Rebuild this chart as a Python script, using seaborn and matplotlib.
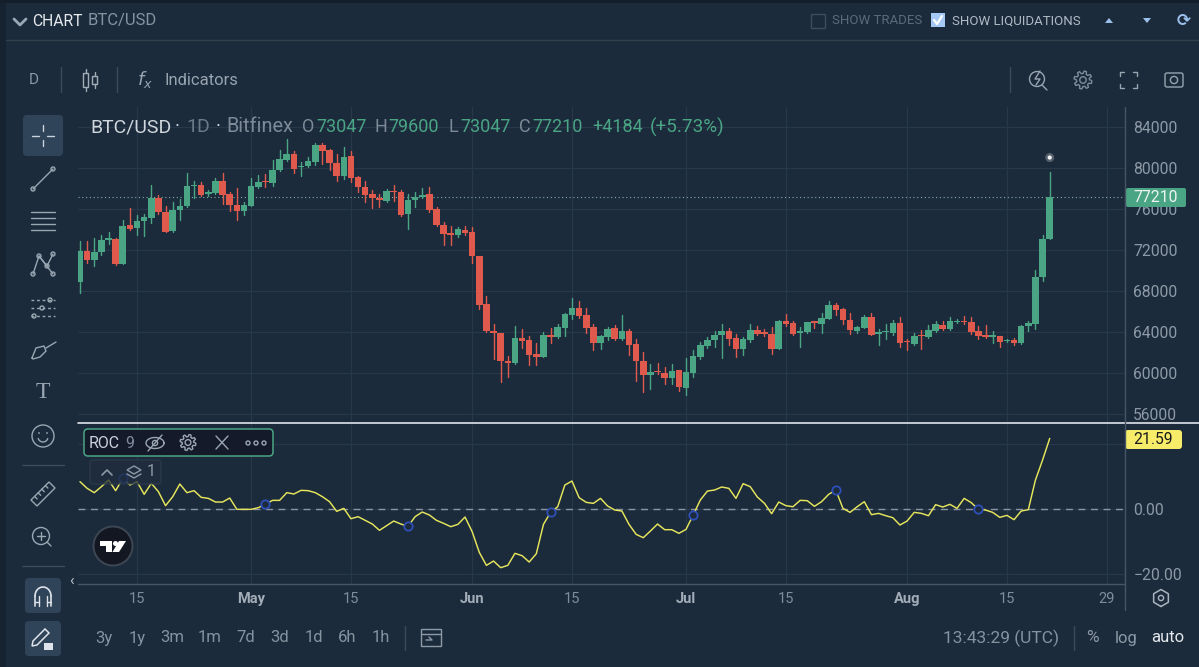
import matplotlib
matplotlib.use("Agg")
import numpy as np
import pandas as pd
import matplotlib.pyplot as plt
import seaborn as sns
from matplotlib.patches import FancyBboxPatch, Circle, Rectangle, Polygon

# daily candles, 7 Apr to 21 Aug
opens = [68860, 71870, 71060, 71810, 73010, 73070, 70670, 74430, 74110, 74820, 75150, 77090, 75730, 73820, 75860, 76280, 78260, 78360, 77450, 77550,
         78750, 77480, 76410, 75800, 76310, 78130, 78750, 78550, 79780, 80790, 81410, 80110, 80210, 80590, 82250, 81760, 80500, 79230, 81150, 79140,
         78160, 77480, 77090, 76770, 77740, 77680, 75540, 76830, 77130, 77480, 76020, 74470, 73620, 73460, 73980, 73750, 71450, 66750, 64090, 63860,
         61170, 60940, 63440, 63210, 61820, 61560, 63700, 63500, 64380, 65680, 66360, 65640, 64440, 62890, 63470, 64350, 63310, 64090, 62790, 61140,
         59810, 60230, 60030, 59550, 60260, 58570, 60030, 61530, 62630, 63180, 63700, 64050, 63370, 62300, 63210, 64190, 63960, 63760, 62340, 65120,
         64870, 63890, 63990, 65030, 64770, 65290, 66680, 66200, 65190, 64120, 64380, 65510, 63800, 64020, 63930, 64840, 63150, 62820, 63700, 63470,
         64060, 64700, 64310, 64960, 65090, 64960, 64060, 63670, 63540, 63570, 63110, 63180, 62890, 64570, 64770, 69340, 73047]
highs = [72840, 72840, 73170, 73490, 73750, 73170, 74890, 76050, 75410, 75540, 78390, 77380, 76250, 76640, 76960, 79490, 78780, 78680, 77870, 79010,
         79560, 77610, 78000, 76670, 79010, 79270, 79430, 80790, 81730, 82800, 81700, 80630, 81110, 82440, 82410, 81830, 81370, 82090, 81700, 79230,
         78710, 77870, 77480, 77940, 78330, 77870, 77480, 77610, 78000, 78160, 76150, 74690, 74370, 74240, 74370, 74210, 71450, 67490, 64740, 63930,
         61660, 64570, 64310, 63600, 62950, 63990, 64410, 64740, 65810, 67330, 67040, 66320, 64740, 63670, 64480, 64640, 65610, 64310, 63280, 62040,
         60840, 60940, 60580, 60840, 60330, 61430, 62210, 63020, 63470, 64050, 64770, 64350, 63760, 63540, 64770, 64570, 64310, 64480, 65160, 65710,
         65060, 64510, 64960, 65060, 65870, 67010, 66840, 66390, 65870, 64540, 65610, 65810, 64250, 64740, 65190, 65480, 63280, 63860, 64190, 64640,
         65090, 65060, 65480, 65220, 65550, 65480, 64570, 64640, 64090, 63630, 63310, 63440, 64670, 65120, 70090, 73490, 79600]
lows = [67820, 70740, 70480, 71480, 72590, 70510, 70610, 73910, 73490, 73330, 74630, 75470, 73750, 73780, 74890, 76180, 77090, 77220, 77220, 77480,
        76510, 75760, 74950, 75370, 76280, 78000, 78100, 78200, 79720, 80730, 79490, 79230, 80140, 80300, 80400, 79820, 78750, 78910, 78650, 77640,
        76670, 76090, 76220, 76640, 76740, 75340, 74040, 76180, 77060, 75730, 74300, 72520, 72520, 73260, 73490, 70730, 66200, 64020, 61330, 59160,
        59610, 60840, 62470, 60810, 60810, 61530, 62890, 63440, 63600, 65290, 65380, 63860, 62240, 62300, 63210, 63250, 63250, 61720, 59250, 58180,
        58410, 59870, 58900, 58900, 58250, 57830, 59610, 61330, 62430, 62530, 61430, 62690, 61590, 61780, 63020, 63730, 63600, 61820, 62300, 64570,
        63700, 62560, 63930, 64350, 63860, 65220, 65610, 64740, 63760, 63860, 64350, 63670, 62730, 63280, 63670, 62530, 62240, 62760, 62300, 63370,
        63990, 64190, 64190, 64870, 64740, 63830, 63340, 63370, 62890, 62560, 62990, 62690, 62820, 64060, 64250, 68950, 73047]
closes = [71870, 71060, 71770, 73010, 73170, 70640, 74370, 74080, 74820, 75210, 77090, 75670, 73780, 75890, 76310, 78200, 78360, 77380, 77610, 78780,
          77380, 76350, 75830, 76350, 78260, 78680, 78650, 79820, 80890, 81410, 79950, 80210, 80690, 82220, 81700, 80470, 79230, 81110, 79010, 78100,
          77380, 77030, 76870, 77710, 77640, 75440, 76830, 77190, 77380, 75930, 74430, 73590, 73490, 74040, 73650, 71380, 66650, 64050, 63860, 61140,
          60940, 63440, 63110, 61750, 61530, 63670, 63540, 64440, 65710, 66320, 65580, 64350, 62890, 63570, 64310, 63280, 64050, 62690, 61140, 59810,
          60130, 60070, 59550, 60230, 58610, 60070, 61660, 62690, 63210, 63670, 64050, 63340, 62300, 63280, 64220, 63830, 63800, 62300, 65120, 64800,
          63800, 64060, 64930, 64870, 65320, 66620, 66130, 65160, 64190, 64440, 65480, 63700, 63990, 64120, 64840, 62890, 62990, 63630, 63570, 64150,
          64740, 64280, 65030, 65120, 64930, 63960, 63570, 63470, 63670, 63050, 63210, 62920, 64610, 64840, 69370, 73070, 77210]

roc = [8.36, 6.32, 5.0, 6.83, 8.87, 5.61, 9.38, 7.34, 8.36, 4.49, 7.85, 5.3, 1.02, 3.77, 7.65, 5.0, 5.61, 3.57, 3.26, 2.14,
       2.14, 3.36, -0.1, -0.1, -0.1, 0.41, 1.43, 2.65, 2.65, 5.0, 4.59, 5.71, 5.61, 5.0, 3.77, 2.24, -0.71, 0.2, -2.96, -2.34,
       -3.47, -4.59, -6.52, -5.1, -3.67, -4.59, -5.3, -2.34, -0.92, -1.83, -3.47, -4.38, -5.4, -4.69, -2.45, -6.93, -13.25, -17.23, -15.9, -17.94,
       -17.23, -13.56, -14.27, -16.21, -13.66, -4.69, -1.02, 0.71, 7.34, 8.56, 3.47, 2.04, 1.73, 3.26, 0.92, -0.31, -0.61, -4.69, -7.75, -8.77,
       -6.73, -4.59, -6.32, -6.32, -7.44, -6.22, -1.83, 2.75, 5.5, 5.81, 6.73, 6.32, 3.26, 7.75, 6.83, 3.67, 1.73, -1.43, 2.14, 1.02,
       0.71, 2.65, 2.55, 0.82, 2.24, 4.49, 5.81, 0.2, -1.02, 0.71, 2.24, -1.73, -1.33, -2.04, -2.65, -4.89, -3.67, -1.02, -1.33, -2.04,
       1.33, 0.61, 1.43, 0.2, 3.26, 1.94, -0.1, -0.31, -1.02, -2.55, -1.94, -3.26, -0.61, -0.2, 8.87, 14.98, 21.59]

price_ticks = [56000, 60000, 64000, 68000, 72000, 76000, 80000, 84000]
roc_ticks = [-20, 0]
date_ticks = ["2024-04-15", "2024-05-01", "2024-05-15", "2024-06-01", "2024-06-15", "2024-07-01", "2024-07-15", "2024-08-01", "2024-08-15", "2024-08-29"]
date_labels = ["15", "May", "15", "Jun", "15", "Jul", "15", "Aug", "15", "29"]
marker_every = 20
last_price = 77210
liq_price = 81020

BG = "#1c2b3b"
GRID = "#26384a"
UP = "#4aa585"
DOWN = "#df5a4d"
YELLOW = "#e6e65c"
GREY = "#7f8c9b"
LIGHT = "#c9d2dc"

sns.set_theme(style="dark", rc={"axes.facecolor": BG, "figure.facecolor": BG, "axes.grid": False})
plt.rcParams["font.family"] = ["Roboto", "DejaVu Sans"]

W, H = 1199, 667
fig = plt.figure(figsize=(W / 100, H / 100), dpi=100)


def pane(x0, y0, x1, y1):
    return fig.add_axes([x0 / W, 1 - y1 / H, (x1 - x0) / W, (y1 - y0) / H])


dates = pd.date_range("2024-04-07", periods=len(opens), freq="D")
df = pd.DataFrame({"date": dates, "open": opens, "high": highs, "low": lows, "close": closes, "roc": roc})
df["dir"] = np.where(df["close"] >= df["open"], "up", "down")
palette = {"up": UP, "down": DOWN}
xlim = (dates[0] - pd.Timedelta(days=0.28), dates[0] + pd.Timedelta(days=146.56))
tick_dates = pd.to_datetime(date_ticks)

# price pane
ax = pane(78, 107, 1125, 423)
wicks = df.melt(id_vars=["date", "dir"], value_vars=["low", "high"], value_name="price")
sns.lineplot(data=wicks, x="date", y="price", units="date", estimator=None, hue="dir", palette=palette,
             lw=1.0, legend=False, ax=ax, zorder=3)
ax.bar(df["date"], (df["close"] - df["open"]).abs().clip(lower=80), bottom=df[["open", "close"]].min(axis=1),
       width=0.92, color=df["dir"].map(palette), edgecolor="none", linewidth=0, zorder=4)
ax.axhline(last_price, color="#7fb0a2", lw=0.8, ls=(0, (1, 2.4)), zorder=2)
sns.scatterplot(x=[dates[-1]], y=[liq_price], s=42, color="#56606c", edgecolor="none", ax=ax, zorder=5)
sns.scatterplot(x=[dates[-1]], y=[liq_price], s=9, color="#f2f4f6", edgecolor="none", ax=ax, zorder=6)
ax.set_xlim(xlim)
ax.set_ylim(55122, 85951)
ax.set_yticks(price_ticks)
ax.set_yticklabels([str(p) for p in price_ticks])
ax.yaxis.tick_right()
ax.set_xticks(tick_dates)
ax.set_xticklabels([])
ax.set_xlabel("")
ax.set_ylabel("")
ax.tick_params(axis="y", length=0, pad=6, labelsize=11.3, labelcolor="#8d99a6")
ax.tick_params(axis="x", length=0)
ax.grid(True, color=GRID, lw=0.9)
ax.set_axisbelow(True)
sns.despine(ax=ax, left=True, bottom=True, right=True, top=True)

# ROC pane
ax2 = pane(78, 424, 1125, 584)
sns.lineplot(data=df, x="date", y="roc", color=YELLOW, lw=1.05, ax=ax2, zorder=3)
sns.scatterplot(data=df.iloc[6::marker_every], x="date", y="roc", s=36, facecolor=BG, edgecolor="#2f4fb8",
                linewidth=1.3, ax=ax2, zorder=4)
ax2.axhline(0, color="#8a96a3", lw=1.0, ls=(0, (5, 4)), zorder=2)
ax2.axhline(20, color=GRID, lw=0.9, zorder=1)
ax2.set_xlim(xlim)
ax2.set_ylim(-22.93, 26.0)
ax2.set_yticks(roc_ticks)
ax2.set_yticklabels(["\u221220.00", "0.00"])
ax2.yaxis.tick_right()
ax2.set_xticks(tick_dates)
ax2.set_xticklabels(date_labels)
for lab, txt_ in zip(ax2.get_xticklabels(), date_labels):
    lab.set_color("#a3adb8" if txt_ != "15" and txt_ != "29" else "#7f8c9b")
    lab.set_fontweight("bold" if txt_ != "15" and txt_ != "29" else "normal")
ax2.set_xlabel("")
ax2.set_ylabel("")
ax2.tick_params(axis="y", length=0, pad=6, labelsize=11.3, labelcolor="#8d99a6")
ax2.tick_params(axis="x", length=0, pad=6, labelsize=10.5)
ax2.grid(True, axis="x", color=GRID, lw=0.9)
ax2.grid(True, axis="y", color=GRID, lw=0.9)
ax2.set_axisbelow(True)
sns.despine(ax=ax2, left=True, bottom=True, right=True, top=True)

# everything around the panes sits on one pixel-sized overlay
ui = fig.add_axes([0, 0, 1, 1], zorder=10)
ui.set_xlim(0, W)
ui.set_ylim(H, 0)
ui.axis("off")
ui.patch.set_alpha(0)


def txt(x, y, s, color=GREY, size=10, ha="left", **kw):
    ui.text(x, y, s, color=color, fontsize=size, ha=ha, va="center", **kw)


def line(xs, ys, color=GREY, lw=1.0, **kw):
    ui.plot(xs, ys, color=color, lw=lw, solid_capstyle="round", **kw)


def box(x0, y0, x1, y1, face, edge="none", r=3, lw=1.0, **kw):
    ui.add_patch(FancyBboxPatch((x0 + r, y0 + r), x1 - x0 - 2 * r, y1 - y0 - 2 * r,
                                boxstyle=f"round,pad={r},rounding_size={r}", fc=face, ec=edge, lw=lw, **kw))


def gear(x, y, r=9, color=GREY, lw=1.0):
    ang = np.linspace(0, 2 * np.pi, 49)
    rad = r * (0.86 + 0.14 * np.sign(np.sin(8 * ang)))
    line(x + rad * np.cos(ang), y + rad * np.sin(ang), color, lw)
    ui.add_patch(Circle((x, y), r * 0.36, fc="none", ec=color, lw=lw))


# frame
ui.add_patch(Rectangle((0, 0), 6, H, fc="#16222f", ec="none"))
ui.add_patch(Rectangle((0, 0), W, 3, fc="#141e2a", ec="none"))
line([6, W], [40, 40], "#31424f", 1.0)
line([78, W], [423, 423], "#dfe4ea", 1.2)
line([1125, 1125], [107, 610], "#465666", 1.0)
line([78, 1125], [584, 584], "#465666", 1.0)

# header
line([14, 20, 26], [19, 25, 19], "#9aa8b6", 2.0)
txt(32, 21, "CHART", "#e6eaee", 11.3)
txt(88, 21, "BTC/USD", "#8592a0", 12)
ui.add_patch(Rectangle((811, 14), 14, 14, fc="none", ec="#3d4d5c", lw=1.0))
txt(832, 21, "SHOW TRADES", "#5c6a78", 9.5)
ui.add_patch(Rectangle((931, 13), 14, 14, fc="#a6c8f5", ec="none"))
line([934, 937, 942], [20, 24, 16], "white", 1.6)
txt(952, 21, "SHOW LIQUIDATIONS", "#b0bac5", 9.5)
ui.add_patch(Polygon([[1105, 23], [1113, 23], [1109, 18]], fc="#9cc0ec", ec="none"))
ui.add_patch(Polygon([[1143, 18], [1151, 18], [1147, 23]], fc="#9cc0ec", ec="none"))
txt(1184, 21, "\u27F3", "#9cc0ec", 12, ha="center", family=["DejaVu Sans"], fontweight="bold")

# chart toolbar
txt(34, 80, "D", "#8a97a5", 11, ha="center")
line([61, 61], [67, 92], "#3b4b5a")
ui.add_patch(Rectangle((83, 73), 5, 14, fc="none", ec="#a3adb8", lw=1.0))
line([85.5, 85.5], [69, 73], "#a3adb8")
line([85.5, 85.5], [87, 91], "#a3adb8")
ui.add_patch(Rectangle((92, 76), 5, 8, fc="none", ec="#a3adb8", lw=1.0))
line([94.5, 94.5], [72, 76], "#a3adb8")
line([94.5, 94.5], [84, 88], "#a3adb8")
line([117, 117], [67, 92], "#3b4b5a")
txt(145, 80, "$f_x$", "#98a4b0", 13, ha="center")
txt(164, 80.5, "Indicators", "#98a4b0", 12)
line([1010, 1010], [67, 92], "#3b4b5a")
ui.add_patch(Circle((1037, 79), 7.5, fc="none", ec="#98a4b0", lw=1.0))
line([1042, 1047], [85, 90], "#98a4b0")
line([1040, 1035, 1040, 1036], [71, 79, 79, 85], "#98a4b0")
gear(1083, 80)
for cx, cy, dx, dy in [(1120, 72, 1, 1), (1137, 72, -1, 1), (1120, 88, 1, -1), (1137, 88, -1, -1)]:
    line([cx, cx, cx + 4 * dx], [cy + 4 * dy, cy, cy], "#98a4b0")
box(1165, 73, 1183, 87, "none", "#98a4b0", r=2)
ui.add_patch(Circle((1174, 80), 3.6, fc="none", ec="#98a4b0", lw=1.0))

# drawing tools
box(23, 115, 63, 156, "#2f4359", r=4)
line([43, 43], [125, 131], LIGHT)
line([43, 43], [140, 146], LIGHT)
line([32, 39], [135.5, 135.5], LIGHT)
line([47, 54], [135.5, 135.5], LIGHT)
line([33, 53], [189, 169], "#9aa6b2")
for px, py in [(33, 189), (53, 169)]:
    ui.add_patch(Circle((px, py), 2, fc=BG, ec="#9aa6b2", lw=1.0))
for yy in [212, 218, 224, 230]:
    line([31, 55], [yy, yy], "#9aa6b2")
line([33, 39, 47, 53], [274, 256, 266, 254], "#9aa6b2")
line([39, 53], [256, 274], "#9aa6b2")
for px, py in [(33, 274), (39, 256), (47, 266), (53, 254), (53, 274)]:
    ui.add_patch(Circle((px, py), 2, fc=BG, ec="#9aa6b2", lw=1.0))
for yy in [300, 308, 316]:
    line([31, 55], [yy, yy], "#9aa6b2", ls=(0, (2, 2)))
for px, py in [(34, 316), (42, 308), (50, 300)]:
    ui.add_patch(Circle((px, py), 2, fc=BG, ec="#9aa6b2", lw=1.0))
line([32, 36, 44, 46, 40, 33, 32], [358, 348, 346, 351, 357, 359, 358], "#9aa6b2")
line([46, 56], [348, 342], "#9aa6b2")
txt(43, 393, "T", "#9aa6b2", 17, ha="center", family=["Liberation Serif"])
ui.add_patch(Circle((43, 436), 11, fc="none", ec="#9aa6b2", lw=1.0))
ui.add_patch(Circle((39, 433), 0.9, fc="#9aa6b2", ec="none"))
ui.add_patch(Circle((47, 433), 0.9, fc="#9aa6b2", ec="none"))
ang = np.linspace(0.3, np.pi - 0.3, 12)
line(43 + 5 * np.cos(ang), 437 + 5 * np.sin(ang), "#9aa6b2")
line([22, 64], [465, 465], "#3b4b5a")
ui.add_patch(Polygon([[31, 500], [49, 482], [55, 488], [37, 506]], closed=True, fc="none", ec="#9aa6b2", lw=1.0))
for k in range(1, 5):
    line([31 + 3.6 * k, 31 + 3.6 * k + 2.5], [500 - 3.6 * k, 500 - 3.6 * k + 2.5], "#9aa6b2")
ui.add_patch(Circle((41, 536), 8.5, fc="none", ec="#9aa6b2", lw=1.0))
line([47, 51], [542, 546], "#9aa6b2")
line([37, 45], [536, 536], "#9aa6b2")
line([41, 41], [532, 540], "#9aa6b2")
line([22, 64], [566, 566], "#3b4b5a")
txt(72, 581, "\u2039", "#c0c8d0", 11, ha="center")
box(25, 578, 61, 613, "#2f4359", r=4)
line([35, 35], [606, 596], "#dde3e9", 1.2)
line([51, 51], [606, 596], "#dde3e9", 1.2)
ang = np.linspace(np.pi, 2 * np.pi, 16)
line(43 + 8 * np.cos(ang), 596 + 9 * np.sin(ang), "#dde3e9", 1.2)
line([39, 39], [606, 596], "#dde3e9", 1.0)
line([47, 47], [606, 596], "#dde3e9", 1.0)
line([35, 39], [602, 602], "#dde3e9", 1.0)
line([47, 51], [602, 602], "#dde3e9", 1.0)
box(25, 621, 61, 656, "#2f4359", r=4)
ui.add_patch(Polygon([[33, 641], [45, 629], [49, 633], [37, 645], [32, 646]], fc="none", ec="#dde3e9", lw=1.1))
ui.add_patch(Rectangle((44, 643), 9, 7, fc="#dde3e9", ec="none"))

# legend line
leg_y = 127
txt(90, leg_y, "BTC/USD", "#cfd6dd", 14)
txt(175, leg_y, "\u00b7", "#cfd6dd", 14)
txt(186, leg_y, "1D", "#6c7987", 14)
txt(216, leg_y, "\u00b7", "#cfd6dd", 14)
txt(226, leg_y, "Bitfinex", "#7e8a97", 14.3)
for xl, letter, xv, val in [(302, "O", 316, "73047"), (375, "H", 388, "79600"), (449, "L", 460, "73047"), (519, "C", 532, "77210")]:
    txt(xl, leg_y, letter, "#7e8a97", 13)
    txt(xv, leg_y, val, UP, 13)
txt(592, leg_y, "+4184", UP, 13)
txt(650, leg_y, "(+5.73%)", UP, 13.6)

# axis tags
box(1126, 188, 1186, 207, UP, r=2)
txt(1156, 197.5, str(last_price), "#eef3f2", 11.3, ha="center")
box(1125, 430, 1182, 449, "#f6ec6a", r=3)
txt(1153, 439.5, f"{roc[-1]:.2f}", "#1a1a1a", 11.3, ha="center")

# ROC legend
box(84, 429, 273, 456, "#141a29", UP, r=4, lw=1.1)
txt(89, 443, "ROC", LIGHT, 11.5)
txt(125, 443, "9", "#7f8c9b", 11.5)
ang = np.linspace(0, 2 * np.pi, 40)
line(155 + 9 * np.cos(ang), 443 + 5.5 * np.sin(ang), "#9aa6b2")
ui.add_patch(Circle((155, 443), 2.6, fc="none", ec="#9aa6b2", lw=1.0))
line([148, 162], [451, 435], "#9aa6b2")
gear(188, 442.5, r=8, color="#9aa6b2")
line([216, 228], [436, 449], "#9aa6b2")
line([228, 216], [436, 449], "#9aa6b2")
for dot in [248, 256, 264]:
    ui.add_patch(Circle((dot, 443), 2, fc="none", ec="#9aa6b2", lw=1.0))
box(90, 460, 161, 484, "#1f2d3e", "#2e3d4d", r=3, alpha=0.75)
line([102, 107, 112], [475, 470, 475], "#8d99a6", 1.2)
ui.add_patch(Polygon([[127, 470], [134, 466], [141, 470], [134, 474]], fc="none", ec="#8d99a6", lw=1.0))
line([127, 134, 141], [474, 478, 474], "#8d99a6")
txt(151, 472, "1", "#8d99a6", 11.5, ha="center")

# logo
ui.add_patch(Circle((113, 546), 19.5, fc="#131722", ec="#3d4754", lw=1.4))
ui.add_patch(Polygon([[100, 541], [112, 541], [112, 552], [106, 552], [106, 546], [100, 546]], fc="white", ec="none"))
ui.add_patch(Circle((115.5, 543.5), 2.5, fc="white", ec="none"))
ui.add_patch(Polygon([[119, 541], [126, 541], [119, 552], [112.5, 552]], fc="white", ec="none"))

# bottom bar
for xp, lab in zip([104, 137, 172, 210, 246, 280, 314, 347, 381], ["3y", "1y", "3m", "1m", "7d", "3d", "1d", "6h", "1h"]):
    txt(xp, 638, lab, "#8592a0", 12, ha="center")
line([405, 405], [626, 650], "#3b4b5a")
ui.add_patch(Rectangle((421, 629), 20, 17, fc="none", ec="#8d99a6", lw=1.0))
line([421, 441], [634, 634], "#8d99a6")
line([426, 432, 429], [640, 640, 637], "#8d99a6")
txt(943, 638, "13:43:29 (UTC)", "#8592a0", 12.5)
line([1074, 1074], [626, 650], "#3b4b5a")
txt(1092, 638, "%", "#8d99a6", 12.5, ha="center")
txt(1126, 638, "log", "#8d99a6", 12, ha="center")
txt(1168, 638, "auto", "#e3e8ed", 12, ha="center")
ang = np.linspace(0, 2 * np.pi, 7)
line(1161 + 8.5 * np.sin(ang), 598 + 8.5 * np.cos(ang), "#aab4bf", 1.1)
ui.add_patch(Circle((1161, 598), 2.6, fc="none", ec="#aab4bf", lw=1.0))

fig.savefig("out.png", dpi=100, facecolor=BG)
